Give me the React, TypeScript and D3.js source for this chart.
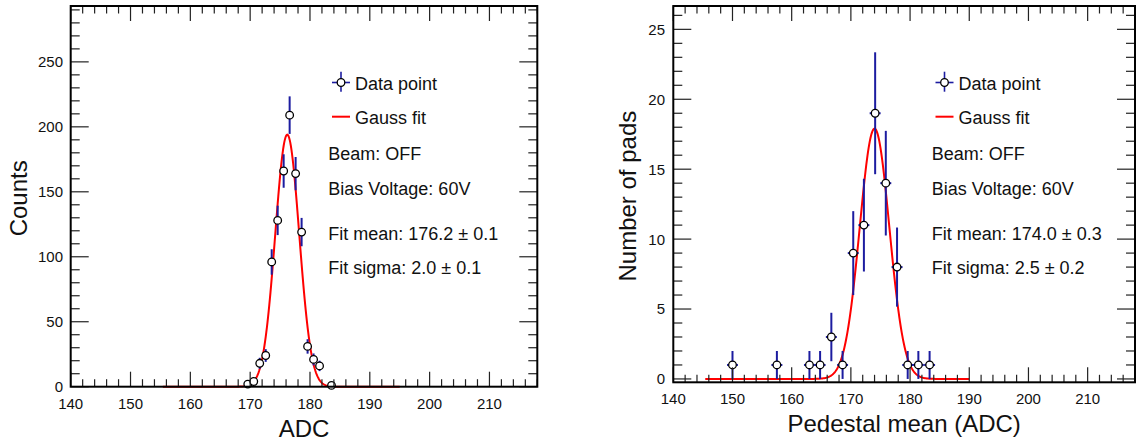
import React from "react";
import * as d3 from "d3";

// ---------- data ----------
const leftBinCenters = [169.6, 170.6, 171.6, 172.6, 173.6, 174.6, 175.6, 176.6, 177.6, 178.6, 179.6, 180.6, 181.6, 183.6];
const leftCounts = [2, 4, 18, 24, 96, 128, 166, 209, 164, 119, 31, 21, 16, 1];
const leftBinHalfWidth = 0.5;
const leftFit = { amp: 194, mean: 176.2, sigma: 2.0, from: 155.4, to: 195 };

const rightBinCenters = [150.0, 157.5, 163.0, 164.8, 166.7, 168.6, 170.4, 172.2, 174.1, 175.9, 177.8, 179.6, 181.4, 183.3];
const rightCounts = [1, 1, 1, 1, 3, 1, 9, 11, 19, 14, 8, 1, 1, 1];
const rightBinHalfWidth = 0.925;
const rightFit = { amp: 17.9, mean: 174.0, sigma: 2.5, from: 145.4, to: 190 };

const xMajorTicks = [140, 150, 160, 170, 180, 190, 200, 210];
const leftYMajor = [0, 50, 100, 150, 200, 250];
const rightYMajor = [0, 5, 10, 15, 20, 25];

const leftText = ["Beam: OFF", "Bias Voltage: 60V", "Fit mean: 176.2 \u00b1 0.1", "Fit sigma: 2.0 \u00b1 0.1"];
const rightText = ["Beam: OFF", "Bias Voltage: 60V", "Fit mean: 174.0 \u00b1 0.3", "Fit sigma: 2.5 \u00b1 0.2"];

const FONT = "'Liberation Sans', Arial, Helvetica, sans-serif";
const BLUE = "#1c1ca0";
const RED = "#ff0000";

type PanelProps = {
  x0: number; x1: number; y0: number; y1: number;
  yDomain: [number, number];
  yMajor: number[]; yMinorStep: number; yMinorMax: number;
  xs: number[]; ys: number[]; halfW: number;
  fit: { amp: number; mean: number; sigma: number; from: number; to: number };
  yLabel: string; yLabelX: number;
  xLabel: string; xLabelY: number;
  tickLabelY: number; yTickLabelX: number;
  legendX: number; textX: number;
  lines: string[];
};

function Panel(p: PanelProps) {
  const xs = d3.scaleLinear().domain([140, 218]).range([p.x0, p.x1]);
  const ys = d3.scaleLinear().domain(p.yDomain).range([p.y1, p.y0]);
  const xMinor = d3.range(140, 218.001, 2).filter((v) => !xMajorTicks.includes(v));
  const yMinor = d3.range(0, p.yMinorMax + 0.001, p.yMinorStep).filter((v) => !p.yMajor.includes(v));
  const xMajLen = 15, xMinLen = 7.5, yMajLen = 18, yMinLen = 9;
  const curvePts = d3.range(p.fit.from, p.fit.to + 0.0001, 0.1).map((x) => [
    x,
    p.fit.amp * Math.exp(-0.5 * ((x - p.fit.mean) / p.fit.sigma) ** 2),
  ] as [number, number]);
  const line = d3.line<[number, number]>().x((d) => xs(d[0])).y((d) => ys(d[1]));
  const tickStroke = "#222";
  return (
    <g>
      {/* fit curve */}
      <path d={line(curvePts) || ""} fill="none" stroke={RED} strokeWidth={2} />
      {/* error bars */}
      {p.xs.map((x, i) => {
        const v = p.ys[i];
        const e = Math.sqrt(v);
        return (
          <g key={"e" + i}>
            <line x1={xs(x)} x2={xs(x)} y1={ys(v + e)} y2={ys(Math.max(v - e, p.yDomain[0]))} stroke={BLUE} strokeWidth={2} />
            <line x1={xs(x - p.halfW)} x2={xs(x + p.halfW)} y1={ys(v)} y2={ys(v)} stroke={BLUE} strokeWidth={2} />
          </g>
        );
      })}
      {p.xs.map((x, i) => (
        <circle key={"c" + i} cx={xs(x)} cy={ys(p.ys[i])} r={3.8} fill="white" stroke="black" strokeWidth={1.3} />
      ))}
      {/* ticks */}
      {xMajorTicks.map((t) => (
        <g key={"xm" + t}>
          <line x1={xs(t)} x2={xs(t)} y1={p.y1} y2={p.y1 - xMajLen} stroke={tickStroke} strokeWidth={1.2} />
          <line x1={xs(t)} x2={xs(t)} y1={p.y0} y2={p.y0 + xMajLen} stroke={tickStroke} strokeWidth={1.2} />
          <text x={xs(t)} y={p.tickLabelY} textAnchor="middle" fontSize={15} fontFamily={FONT} fill="#111">{t}</text>
        </g>
      ))}
      {xMinor.map((t) => (
        <g key={"xn" + t}>
          <line x1={xs(t)} x2={xs(t)} y1={p.y1} y2={p.y1 - xMinLen} stroke={tickStroke} strokeWidth={1.2} />
          <line x1={xs(t)} x2={xs(t)} y1={p.y0} y2={p.y0 + xMinLen} stroke={tickStroke} strokeWidth={1.2} />
        </g>
      ))}
      {p.yMajor.map((t) => (
        <g key={"ym" + t}>
          <line x1={p.x0} x2={p.x0 + yMajLen} y1={ys(t)} y2={ys(t)} stroke={tickStroke} strokeWidth={1.2} />
          <line x1={p.x1} x2={p.x1 - yMajLen} y1={ys(t)} y2={ys(t)} stroke={tickStroke} strokeWidth={1.2} />
          <text x={p.yTickLabelX} y={ys(t)} dy="0.36em" textAnchor="end" fontSize={15} fontFamily={FONT} fill="#111">{t}</text>
        </g>
      ))}
      {yMinor.map((t) => (
        <g key={"yn" + t}>
          <line x1={p.x0} x2={p.x0 + yMinLen} y1={ys(t)} y2={ys(t)} stroke={tickStroke} strokeWidth={1.2} />
          <line x1={p.x1} x2={p.x1 - yMinLen} y1={ys(t)} y2={ys(t)} stroke={tickStroke} strokeWidth={1.2} />
        </g>
      ))}
      {/* frame */}
      <rect x={p.x0} y={p.y0} width={p.x1 - p.x0} height={p.y1 - p.y0} fill="none" stroke="black" strokeWidth={2} />
      {/* axis titles */}
      <text x={(p.x0 + p.x1) / 2} y={p.xLabelY} textAnchor="middle" fontSize={24} fontFamily={FONT} fill="#111">{p.xLabel}</text>
      <text transform={`translate(${p.yLabelX},${(p.y0 + p.y1) / 2 + 2}) rotate(-90)`} textAnchor="middle" fontSize={24} fontFamily={FONT} fill="#111">{p.yLabel}</text>
      {/* legend */}
      <g>
        <line x1={p.legendX} x2={p.legendX} y1={71.7} y2={91.7} stroke={BLUE} strokeWidth={1.6} />
        <line x1={p.legendX - 9} x2={p.legendX + 9} y1={82.5} y2={82.5} stroke={BLUE} strokeWidth={1.6} />
        <circle cx={p.legendX} cy={82.5} r={3.8} fill="white" stroke="black" strokeWidth={1.3} />
        <text x={p.legendX + 14} y={89.5} fontSize={18} fontFamily={FONT} fill="#111">Data point</text>
        <line x1={p.legendX - 9} x2={p.legendX + 9} y1={116.7} y2={116.7} stroke={RED} strokeWidth={2} />
        <text x={p.legendX + 14} y={124} fontSize={18} fontFamily={FONT} fill="#111">Gauss fit</text>
        {p.lines.map((s, i) => (
          <text key={s} x={p.textX} y={[160, 195, 240, 273.5][i]} fontSize={18} fontFamily={FONT} fill="#111">{s}</text>
        ))}
      </g>
    </g>
  );
}

export default function App() {
  return (
    <svg width={1137} height={444} style={{ position: "absolute", left: 0, top: 0, background: "white" }}>
      <rect x={0} y={0} width={1137} height={444} fill="white" />
      <Panel
        x0={70.7} x1={537.3} y0={6} y1={386.7}
        yDomain={[0, 293]} yMajor={leftYMajor} yMinorStep={10} yMinorMax={290}
        xs={leftBinCenters} ys={leftCounts} halfW={leftBinHalfWidth} fit={leftFit}
        yLabel="Counts" yLabelX={27} xLabel="ADC" xLabelY={437}
        tickLabelY={408.5} yTickLabelX={63}
        legendX={341} textX={328.3} lines={leftText}
      />
      <Panel
        x0={673.3} x1={1135} y0={6} y1={382.3}
        yDomain={[-0.24, 26.67]} yMajor={rightYMajor} yMinorStep={1} yMinorMax={26}
        xs={rightBinCenters} ys={rightCounts} halfW={rightBinHalfWidth} fit={rightFit}
        yLabel="Number of pads" yLabelX={636} xLabel="Pedestal mean (ADC)" xLabelY={432}
        tickLabelY={403.5} yTickLabelX={665}
        legendX={944.5} textX={931.7} lines={rightText}
      />
    </svg>
  );
}
